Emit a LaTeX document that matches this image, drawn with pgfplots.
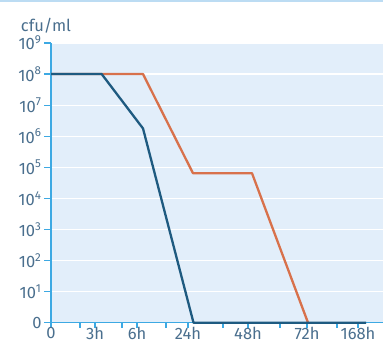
\documentclass[border=0pt]{standalone}
\usepackage{pgfplots}
\pgfplotsset{compat=1.18}
\usepackage{fontspec}
\setmainfont{Fira Sans}
\definecolor{bg}{HTML}{E2EEFA}
\definecolor{axc}{HTML}{3DA9E3}
\definecolor{txt}{HTML}{4A6F8E}
\definecolor{bl}{HTML}{1E5A80}
\definecolor{orn}{HTML}{D8714B}
\definecolor{topc}{HTML}{BCDCF3}
\begin{document}
\begin{tikzpicture}[x=1pt,y=1pt]
\useasboundingbox (0,0) rectangle (383,347);
\fill[white] (0,0) rectangle (383,347);
\draw[color=topc, line width=2pt] (0,346) -- (383,346);
\node[txt, font=\fontsize{16.5}{16.5}\selectfont] at (46,321) {cfu/ml};
\begin{axis}[
  at={(51pt,24.3pt)}, anchor=south west,
  width=332pt, height=279.7pt, scale only axis,
  xmin=51, xmax=383, ymin=0, ymax=9,
  clip=false,
  axis background/.style={fill=bg},
  axis x line*=bottom, axis y line*=left,
  axis line style={axc, line width=1.5pt, -},
  tick align=outside,
  ytick={0,1,2,3,4,5,6,7,8,9},
  yticklabels={0,10\textsuperscript{1},10\textsuperscript{2},10\textsuperscript{3},10\textsuperscript{4},10\textsuperscript{5},10\textsuperscript{6},10\textsuperscript{7},10\textsuperscript{8},10\textsuperscript{9}},
  ymajorgrids,
  major grid style={white, line width=1.3pt},
  major tick length=7pt,
  tick style={axc, line width=1.3pt},
  xtick={80,122,166,223,280,337},
  xticklabels={},
  major x tick style={/pgfplots/major tick length=5pt},
  extra x ticks={51,95,137,188,248,307,358},
  extra x tick labels={0,3h,6h,24h,48h,72h,168h},
  extra x tick style={major tick length=0pt, grid=none, tick label style={yshift=-3.5pt, inner sep=1pt}},
  tick label style={txt, font=\fontsize{16.5}{16.5}\selectfont},
  yticklabel style={xshift=1pt},
]
\addplot[orn, line width=2.3pt, line join=round] coordinates {(51,8)(101.7,8)(143,8)(193,4.81)(252,4.81)(308,0)};
\addplot[bl, line width=2.3pt, line join=round] coordinates {(51,8)(101.7,8)(143,6.25)(193.5,0)(366,0)};
\end{axis}
\end{tikzpicture}
\end{document}
